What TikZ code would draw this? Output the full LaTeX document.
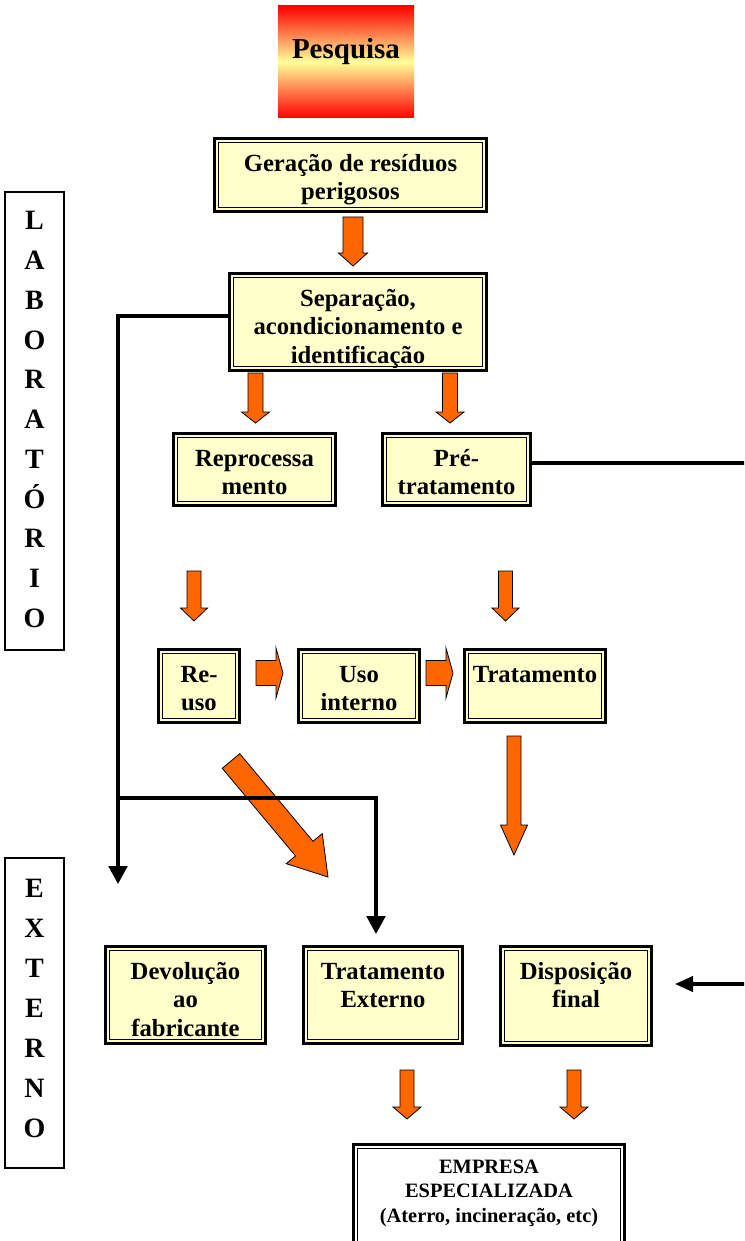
\documentclass[tikz,border=0pt]{standalone}
\usepackage{fontspec}
\setmainfont{Liberation Serif}
\usetikzlibrary{arrows.meta,calc}
\definecolor{boxyellow}{HTML}{FFFFCC}
\definecolor{pesqyellow}{HTML}{FFFF99}
\definecolor{arrorange}{HTML}{FF6600}
\tikzset{
  sz/.style 2 args={minimum width={(#1-3)*0.75pt}, minimum height={(#2-3)*0.75pt}},
  ybox/.style={draw=black, line width=2.2pt, fill=boxyellow, inner sep=0pt, outer sep=0pt},
  innerline/.style={draw=black, line width=0.75pt},
  txt/.style={font=\fontsize{18.5}{21.4}\selectfont\bfseries, align=center, inner sep=0pt},
  sidebox/.style={draw=black, line width=0.8pt, fill=white, inner sep=0pt},
  sidetxt/.style={font=\fontsize{21}{29.8}\selectfont\bfseries, align=center, inner sep=0pt},
  conn/.style={draw=black, line width=2.4pt},
  arrtip/.style={-{Triangle[length=13.5pt,width=14pt]}},
  barrow/.style={draw=black, line width=0.6pt, fill=arrorange, line join=miter}
}
% block arrow: x y angle length shafthalf headhalf headlen
\newcommand\barr[7]{%
  \begin{scope}[shift={(#1,#2)},rotate=#3]
    \draw[barrow] (0,-#5) -- ({#4-#7},-#5) -- ({#4-#7},-#6) -- (#4,0) -- ({#4-#7},#6) -- ({#4-#7},#5) -- (0,#5) -- cycle;
  \end{scope}}
% double-bordered box: name cx cy w h fill text
\newcommand\bx[7]{%
  \node[ybox, fill=#6, sz={#4}{#5}] (#1) at (#2,#3) {};
  \draw[innerline] ([shift={(2.7pt,-2.7pt)}]#1.north west) rectangle ([shift={(-2.7pt,2.7pt)}]#1.south east);
  \node[txt, anchor=north] (#1-t) at ([yshift=-9.4pt]#1.north) {\strut #7};}
\begin{document}
\begin{tikzpicture}[x=0.75pt, y=-0.75pt]
\useasboundingbox (0,0) rectangle (744,1241);
\clip (0,0) rectangle (744,1241);
\fill[white] (0,0) rectangle (744,1241);

% Pesquisa
\node[inner sep=0pt, minimum width={136*0.75pt}, minimum height={112*0.75pt},
      top color=red, bottom color=red, middle color=pesqyellow] (pesq) at (346,62) {};
\node[font=\fontsize{21.75}{26}\selectfont\bfseries, anchor=base, inner sep=0pt] (pesq-t) at (346,59) {Pesquisa};

% side boxes
\node[sidebox, minimum width={59*0.75pt}, minimum height={458*0.75pt}] (lab) at (34.5,421) {};
\node[sidetxt] (lab-t) at (34.5,419.5) {L\\A\\B\\O\\R\\A\\T\\Ó\\R\\I\\O};
\node[sidebox, minimum width={59*0.75pt}, minimum height={310*0.75pt}] (ext) at (34.5,1013) {};
\node[sidetxt, font=\fontsize{21}{30}\selectfont\bfseries] (ext-t) at (34.5,1008) {E\\X\\T\\E\\R\\N\\O};

% yellow boxes
\bx{ger}{350.5}{175}{275}{76}{boxyellow}{Geração de resíduos\\perigosos}
\bx{sep}{358}{322}{260}{100}{boxyellow}{Separação,\\acondicionamento e\\identificação}
\bx{rep}{254.5}{469.5}{165}{75}{boxyellow}{Reprocessa\\mento}
\bx{pre}{456.5}{469.5}{151}{75}{boxyellow}{Pré-\\tratamento}
\bx{reu}{199}{686}{84}{76}{boxyellow}{Re-\\uso}
\bx{uso}{359}{686}{124}{76}{boxyellow}{Uso\\interno}
\bx{tra}{535}{686}{144}{76}{boxyellow}{Tratamento}
\bx{dev}{185.5}{995}{163}{100}{boxyellow}{Devolução\\ao\\fabricante}
\bx{tex}{383}{995}{162}{100}{boxyellow}{Tratamento\\Externo}
\bx{dis}{576}{996}{154}{102}{boxyellow}{Disposição\\final}

% empresa box
\node[ybox, fill=white, sz={274}{115}] (emp) at (489,1200.5) {};
\draw[innerline] ([shift={(2.7pt,-2.7pt)}]emp.north west) rectangle ([shift={(-2.7pt,2.7pt)}]emp.south east);
\node[font=\fontsize{15.3}{18.4}\selectfont\bfseries, align=center, inner sep=0pt, anchor=north] (emp-t)
  at ([yshift=-8.5pt]emp.north) {\strut EMPRESA\\ESPECIALIZADA\\(Aterro, incineração, etc)};

% block arrows
\barr{353}{217}{-90}{49}{10}{14.5}{13}
\barr{255.5}{373}{-90}{50}{7.5}{14}{11}
\barr{450}{373}{-90}{50}{7.5}{14}{11}
\barr{194}{571}{-90}{50}{7}{13.5}{13}
\barr{505.5}{571}{-90}{50}{7}{13.5}{13}
\barr{256}{673}{0}{27}{12.5}{25}{7}
\barr{426}{673}{0}{27}{12.5}{25}{7}
\barr{514}{736}{-90}{119}{7}{13.5}{30}
\barr{231}{761}{-50.1}{151.2}{11.4}{23.5}{37}
\barr{407}{1070}{-90}{49}{7}{14}{12}
\barr{574}{1070}{-90}{49}{7}{14}{12}

% line connectors
\coordinate (c-left) at (118,884);
\coordinate (c-branch) at (118,798);
\coordinate (c-ext) at (376,934);
\coordinate (c-dis) at (675,984);
\draw[conn, arrtip] (sep.west |- 0,316) -| (c-left);
\draw[conn, arrtip] (c-branch) -| (c-ext);
\draw[conn, -{Triangle[length=13.5pt,width=11.5pt]}] (pre.east |- 0,463) -- (770,463) -- (770,984) -- (c-dis);
\end{tikzpicture}
\end{document}
